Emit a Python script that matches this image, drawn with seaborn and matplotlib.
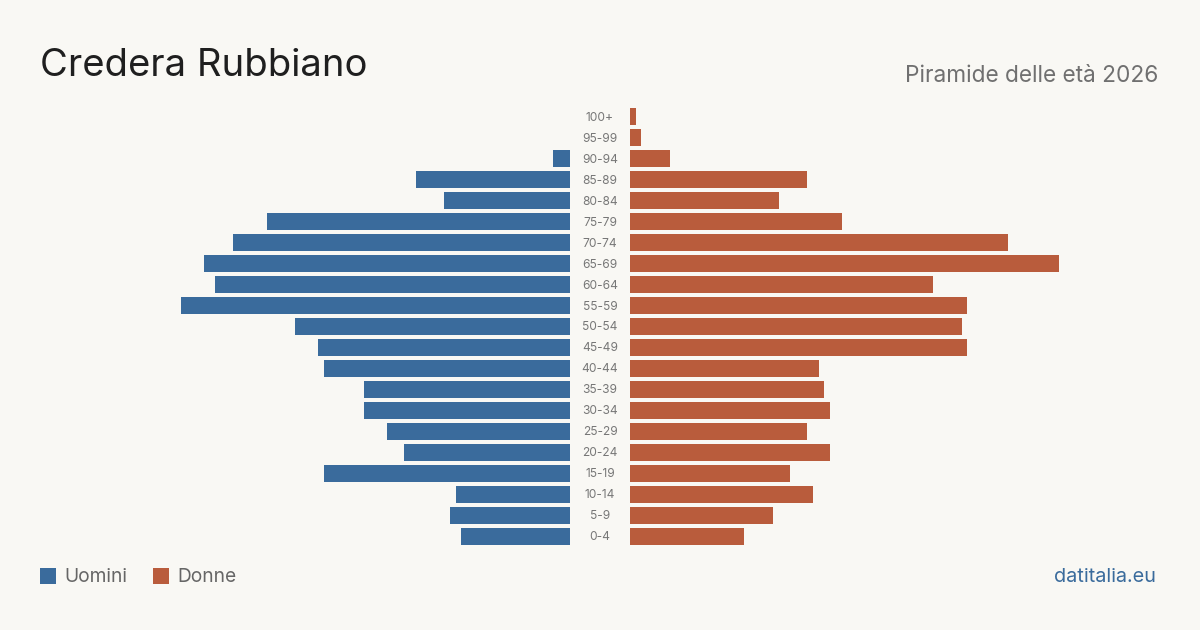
import matplotlib
matplotlib.use("Agg")
import matplotlib.pyplot as plt
import seaborn as sns
import pandas as pd
from matplotlib.patches import Rectangle

age_groups = ["100+", "95-99", "90-94", "85-89", "80-84", "75-79", "70-74", "65-69",
              "60-64", "55-59", "50-54", "45-49", "40-44", "35-39", "30-34", "25-29",
              "20-24", "15-19", "10-14", "5-9", "0-4"]
men = [0, 0, 3, 27, 22, 53, 59, 64, 62, 68, 48, 44, 43, 36, 36, 32, 29, 43, 20, 21, 19]
women = [1, 2, 7, 31, 26, 37, 66, 75, 53, 59, 58, 59, 33, 34, 35, 31, 35, 28, 32, 25, 20]

title = "Credera Rubbiano"
subtitle = "Piramide delle età 2026"
legend_labels = ["Uomini", "Donne"]
source = "datitalia.eu"

BG = "#f9f8f4"
BLUE = "#3a6b9c"
ORANGE = "#b95c3c"

sns.set_theme(style="white")
plt.rcParams["font.family"] = ["Inter", "DejaVu Sans"]

df = pd.DataFrame({"age": age_groups, "men": men, "women": women})

W, H = 1200, 630
fig = plt.figure(figsize=(12, 6.3), dpi=100, facecolor=BG)

vmax = max(max(men), max(women))
scale = 5.72  # px per unit
half = vmax * scale
top_px, bot_px = 106.5, 546.5
axL = fig.add_axes([(570 - half) / W, 1 - bot_px / H, half / W, (bot_px - top_px) / H])
axR = fig.add_axes([630 / W, 1 - bot_px / H, half / W, (bot_px - top_px) / H])

sns.barplot(data=df, y="age", x="men", orient="h", color=BLUE, width=0.81,
            saturation=1, ax=axL, order=age_groups, linewidth=0, edgecolor="none")
sns.barplot(data=df, y="age", x="women", orient="h", color=ORANGE, width=0.81,
            saturation=1, ax=axR, order=age_groups, linewidth=0, edgecolor="none")

axL.set_xlim(vmax, 0)
axR.set_xlim(0, vmax)
for ax in (axL, axR):
    ax.set_ylim(len(age_groups) - 0.5, -0.5)
    ax.set_facecolor("none")
    ax.set_xlabel("")
    ax.set_ylabel("")
    ax.set_xticks([])
    ax.set_yticks([])
    for s in ax.spines.values():
        s.set_visible(False)

# center labels
for i, a in enumerate(age_groups):
    y = 1 - (top_px + 1 + (i + 0.5) * (bot_px - top_px) / len(age_groups)) / H
    fig.text(600 / W, y, a, ha="center", va="center", fontsize=8.6, color="#777777")

fig.text(40 / W, 1 - 66 / H, title, ha="left", va="center", fontsize=27.5, color="#1f1f1f")
fig.text(1158 / W, 1 - 76.5 / H, subtitle, ha="right", va="center", fontsize=16.3, color="#707070")

# legend
fig.patches.append(Rectangle((40 / W, 1 - 584 / H), 16 / W, 16 / H, transform=fig.transFigure,
                             facecolor=BLUE, edgecolor="none"))
fig.text(64 / W, 1 - 577 / H, legend_labels[0], ha="left", va="center", fontsize=13.8, color="#666666")
fig.patches.append(Rectangle((153 / W, 1 - 584 / H), 16 / W, 16 / H, transform=fig.transFigure,
                             facecolor=ORANGE, edgecolor="none"))
fig.text(177 / W, 1 - 577 / H, legend_labels[1], ha="left", va="center", fontsize=13.8, color="#666666")

fig.text(1156 / W, 1 - 577 / H, source, ha="right", va="center", fontsize=14.3, color="#3a6b9c")

fig.savefig("out.png", dpi=100, facecolor=BG)
